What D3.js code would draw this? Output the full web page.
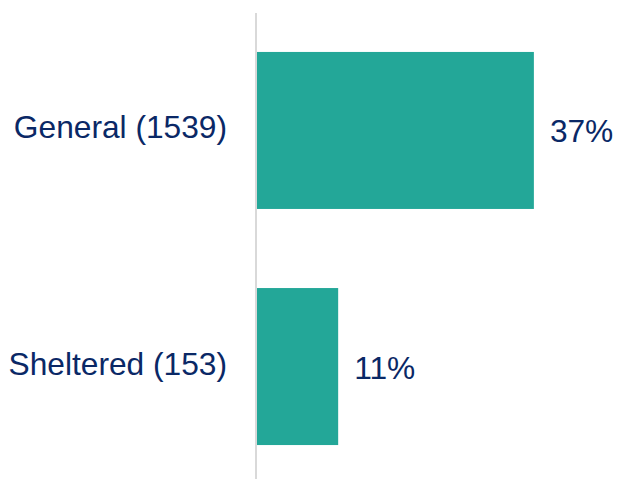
<!DOCTYPE html>
<html>
<head>
<meta charset="utf-8">
<script src="https://cdn.jsdelivr.net/npm/d3@7"></script>
<style>
  body { margin: 0; background: #fff; }
  text { font-family: "Liberation Sans", Arial, sans-serif; }
</style>
</head>
<body>
<script>
var categories = ["General (1539)", "Sheltered (153)"];
var values = [37.2, 11.0];
var valueLabels = ["37%", "11%"];

var w = 618, h = 479;
var axisX = 256;

var svg = d3.select("body")
    .append("svg")
    .attr("width", w)
    .attr("height", h);

var yScale = d3.scaleBand()
    .domain(categories)
    .range([13, 484])
    .paddingInner(0.335)
    .paddingOuter(0.165);

var xScale = d3.scaleLinear()
    .domain([0, 40])
    .range([axisX, axisX + 298.8]);

var rows = categories.map(function(c, i) {
    return { cat: c, val: values[i], label: valueLabels[i] };
});

// bars
svg.selectAll("rect.bar")
    .data(rows)
    .enter()
    .append("rect")
    .attr("class", "bar")
    .attr("x", xScale(0))
    .attr("y", function(d) { return yScale(d.cat); })
    .attr("width", function(d) { return xScale(d.val) - xScale(0); })
    .attr("height", yScale.bandwidth())
    .attr("fill", "#23a798");

// vertical axis line
svg.append("line")
    .attr("x1", axisX).attr("x2", axisX)
    .attr("y1", 13).attr("y2", h)
    .attr("stroke", "#d9d9d9")
    .attr("stroke-width", 2);

// category labels
svg.selectAll("text.cat")
    .data(rows)
    .enter()
    .append("text")
    .attr("class", "cat")
    .attr("x", 227)
    .attr("y", function(d) { return yScale(d.cat) + yScale.bandwidth() / 2 + 8; })
    .attr("text-anchor", "end")
    .attr("font-size", 31.7)
    .attr("fill", "#0a2866")
    .text(function(d) { return d.cat; });

// value labels
svg.selectAll("text.val")
    .data(rows)
    .enter()
    .append("text")
    .attr("class", "val")
    .attr("x", function(d) { return xScale(d.val) + 16; })
    .attr("y", function(d) { return yScale(d.cat) + yScale.bandwidth() / 2 + 12; })
    .attr("font-size", 31.7)
    .attr("fill", "#0a2866")
    .text(function(d) { return d.label; });
</script>
</body>
</html>
